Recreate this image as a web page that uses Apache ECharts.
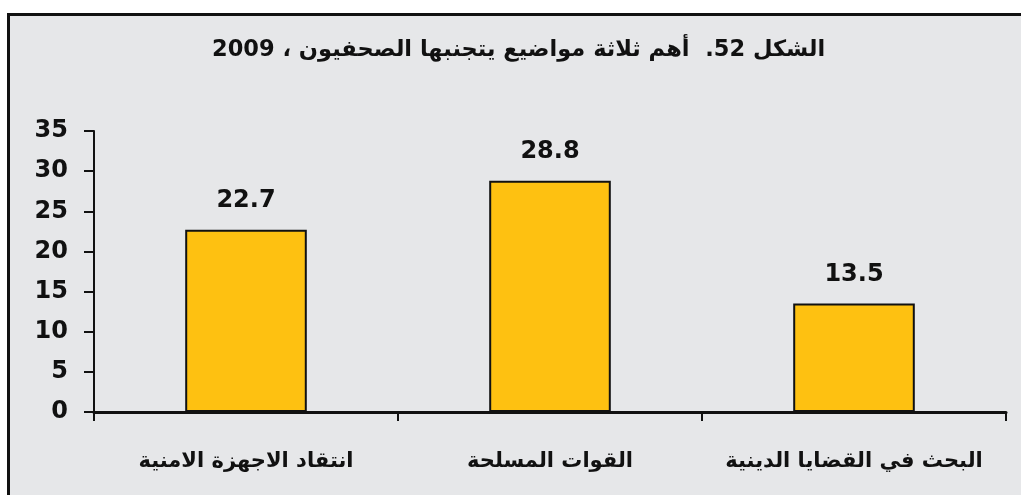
<!DOCTYPE html>
<html>
<head>
<meta charset="utf-8">
<script src="https://cdn.jsdelivr.net/npm/echarts@6/dist/echarts.min.js"></script>
<style>
  html, body { margin: 0; padding: 0; background: #ffffff; overflow: hidden; }
  #chart { width: 1021px; height: 495px; }
</style>
</head>
<body>
<div id="chart" dir="rtl"></div>
<script>
// Chart text
const titleText = 'الشكل 52.  أهم ثلاثة مواضيع يتجنبها الصحفيون ، 2009';

// Categories, left to right
const categories = ['انتقاد الاجهزة الامنية', 'القوات المسلحة', 'البحث في القضايا الدينية'];

// Percentages for each topic
const values = [22.7, 28.8, 13.5];

// Value axis range
const yMin = 0;
const yMax = 35;
const yStep = 5;

const FONT = '"DejaVu Sans", "Liberation Sans", Arial, sans-serif';
const INK = '#111111';

const chart = echarts.init(document.getElementById('chart'), null, { renderer: 'canvas' });

chart.setOption({
  backgroundColor: '#ffffff',
  animation: false,
  graphic: [
    {
      // grey panel behind the chart
      type: 'rect',
      z: -10,
      silent: true,
      shape: { x: 9, y: 15, width: 1100, height: 600 },
      style: { fill: '#e6e7e9' }
    },
    {
      // frame: left and top edges of the panel
      type: 'polyline',
      z: -9,
      silent: true,
      shape: { points: [[8.5, 700], [8.5, 14.5], [1200, 14.5]] },
      style: { stroke: '#111111', lineWidth: 3, fill: null }
    }
  ],
  title: {
    text: titleText,
    left: 207,
    top: 34,
    textStyle: { fontFamily: FONT, fontSize: 22.5, fontWeight: 'bold', color: INK }
  },
  grid: { left: 94, right: 15, top: 131, bottom: 83, containLabel: false },
  xAxis: {
    type: 'category',
    data: categories,
    axisLine: { show: true, lineStyle: { color: INK, width: 3 } },
    axisTick: { show: true, interval: 0, alignWithLabel: false, length: 9, lineStyle: { color: INK, width: 2 } },
    axisLabel: {
      interval: 0,
      margin: 39,
      fontFamily: FONT, fontSize: 21, fontWeight: 'bold', color: INK
    },
    splitLine: { show: false }
  },
  yAxis: {
    type: 'value',
    min: yMin,
    max: yMax,
    interval: yStep,
    axisLine: { show: true, lineStyle: { color: INK, width: 2 } },
    axisTick: { show: true, inside: false, length: 10, lineStyle: { color: INK, width: 2 } },
    axisLabel: {
      margin: 26,
      fontFamily: FONT, fontSize: 24, fontWeight: 'bold', color: INK
    },
    splitLine: { show: false }
  },
  series: [{
    type: 'bar',
    data: values,
    barWidth: '40%',
    itemStyle: { color: '#fec111', borderColor: '#111111', borderWidth: 2 },
    label: {
      show: true,
      position: 'top',
      distance: 17,
      formatter: (p) => p.value.toFixed(1),
      fontFamily: FONT, fontSize: 24, fontWeight: 'bold', color: INK
    }
  }]
});
</script>
</body>
</html>
